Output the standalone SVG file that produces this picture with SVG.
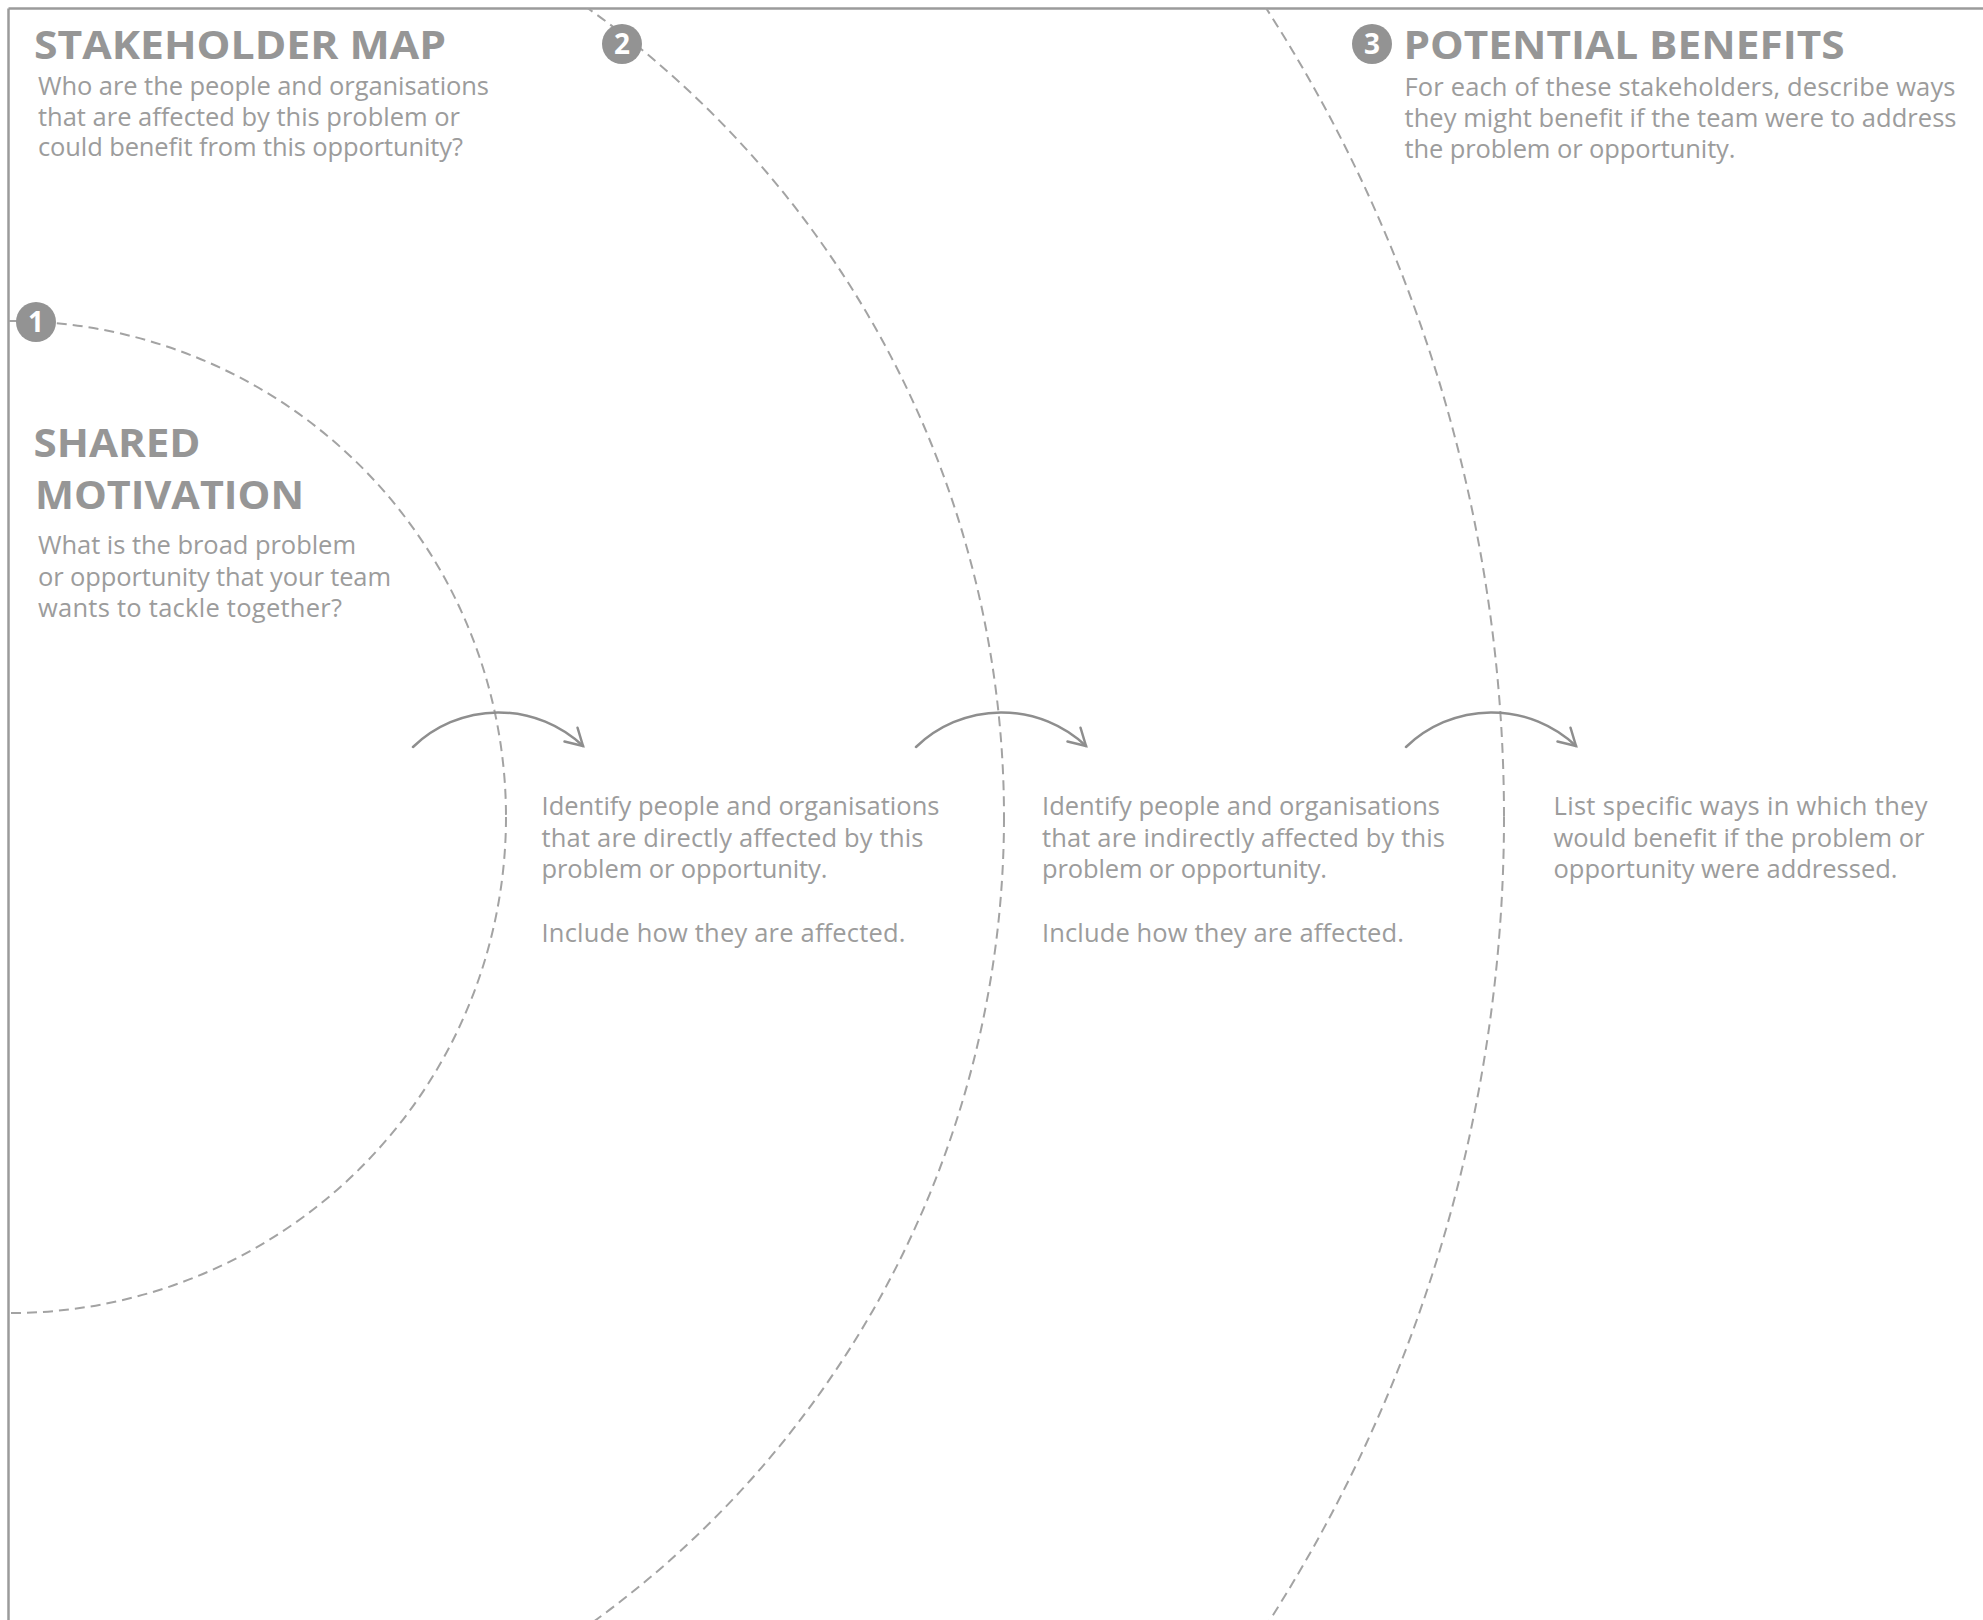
<svg xmlns="http://www.w3.org/2000/svg" width="1983" height="1620" viewBox="0 0 1983 1620">
  <style>
    .frame { stroke: #9b9b9b; stroke-width: 2.5; fill: none; }
    .ring { fill: none; stroke: #a3a3a3; stroke-width: 2; stroke-dasharray: 10 6; }
    .arc { fill: none; stroke: #8e8e8e; stroke-width: 2.5; stroke-linecap: round; }
    .head { font-family: "Open Sans", "Liberation Sans", sans-serif; font-weight: 700; font-size: 40px; fill: #969696; }
    .body { font-family: "Open Sans", "Liberation Sans", sans-serif; font-weight: 400; font-size: 25.5px; fill: #9c9c9c; }
    .badge circle { fill: #939393; }
    .badge text { font-family: "Open Sans", "Liberation Sans", sans-serif; font-weight: 700; font-size: 28px; fill: #ffffff; text-anchor: middle; }
  </style>
  <defs>
    <clipPath id="clip-frame">
      <rect x="8.5" y="8.5" width="1975" height="1612"/>
    </clipPath>
    <marker id="chevron" viewBox="-20 -15 25 30" markerWidth="25" markerHeight="30" refX="0" refY="0" markerUnits="userSpaceOnUse" orient="auto" overflow="visible">
      <path d="M -16.5 -9.5 L 0 0 L -16.5 9.5" fill="none" stroke="#8e8e8e" stroke-width="2.5" stroke-linecap="round" stroke-linejoin="miter"/>
    </marker>
  </defs>

  <rect width="1983" height="1620" fill="#ffffff"/>

  <g id="frame">
    <line class="frame" x1="8.5" y1="8.5" x2="1983" y2="8.5"/>
    <line class="frame" x1="8.5" y1="8.5" x2="8.5" y2="1620"/>
  </g>

  <g id="rings" clip-path="url(#clip-frame)">
    <circle id="ring-1" class="ring" cx="10" cy="817" r="496"/>
    <circle id="ring-2" class="ring" cx="10" cy="817" r="994"/>
    <circle id="ring-3" class="ring" cx="10" cy="817" r="1494"/>
  </g>

  <g id="stakeholder-map">
    <text class="head" x="34" y="58.5" textLength="412" lengthAdjust="spacingAndGlyphs">STAKEHOLDER MAP</text>
    <text class="body" x="38" y="95" textLength="451">Who are the people and organisations</text>
    <text class="body" x="38" y="125.5" textLength="422">that are affected by this problem or</text>
    <text class="body" x="38" y="156" textLength="425">could benefit from this opportunity?</text>
  </g>

  <g id="shared-motivation">
    <g class="badge" id="badge-1">
      <circle cx="36" cy="322" r="20"/>
      <text x="36" y="332">1</text>
    </g>
    <text class="head" x="33.5" y="457" textLength="167" lengthAdjust="spacingAndGlyphs">SHARED</text>
    <text class="head" x="35" y="509" textLength="269" lengthAdjust="spacingAndGlyphs">MOTIVATION</text>
    <text class="body" x="38" y="554" textLength="318">What is the broad problem</text>
    <text class="body" x="38" y="586" textLength="353">or opportunity that your team</text>
    <text class="body" x="38" y="617" textLength="304">wants to tackle together?</text>
  </g>

  <g id="direct-stakeholders">
    <g class="badge" id="badge-2">
      <circle cx="622" cy="44" r="20"/>
      <text x="622" y="54">2</text>
    </g>
    <text class="body" x="541.5" y="815" textLength="398">Identify people and organisations</text>
    <text class="body" x="541.5" y="847" textLength="382">that are directly affected by this</text>
    <text class="body" x="541.5" y="878" textLength="286">problem or opportunity.</text>
    <text class="body" x="541.5" y="942" textLength="364">Include how they are affected.</text>
  </g>

  <g id="indirect-stakeholders">
    <text class="body" x="1042" y="815" textLength="398">Identify people and organisations</text>
    <text class="body" x="1042" y="847" textLength="403">that are indirectly affected by this</text>
    <text class="body" x="1042" y="878" textLength="285">problem or opportunity.</text>
    <text class="body" x="1042" y="942" textLength="362">Include how they are affected.</text>
  </g>

  <g id="potential-benefits">
    <g class="badge" id="badge-3">
      <circle cx="1372" cy="44" r="20"/>
      <text x="1372" y="54">3</text>
    </g>
    <text class="head" x="1403.5" y="58.5" textLength="441" lengthAdjust="spacingAndGlyphs">POTENTIAL BENEFITS</text>
    <text class="body" x="1404.5" y="96" textLength="551">For each of these stakeholders, describe ways</text>
    <text class="body" x="1404.5" y="127" textLength="552">they might benefit if the team were to address</text>
    <text class="body" x="1404.5" y="158" textLength="331">the problem or opportunity.</text>
    <text class="body" x="1553.5" y="815" textLength="374">List specific ways in which they</text>
    <text class="body" x="1553.5" y="847" textLength="371">would benefit if the problem or</text>
    <text class="body" x="1553.5" y="878" textLength="344">opportunity were addressed.</text>
  </g>

  <g id="connectors">
    <path id="arrow-1" class="arc" d="M 413 747 A 123 123 0 0 1 583 746" marker-end="url(#chevron)"/>
    <path id="arrow-2" class="arc" d="M 916 747 A 123 123 0 0 1 1086 746" marker-end="url(#chevron)"/>
    <path id="arrow-3" class="arc" d="M 1406 747 A 123 123 0 0 1 1576 746" marker-end="url(#chevron)"/>
  </g>
</svg>
